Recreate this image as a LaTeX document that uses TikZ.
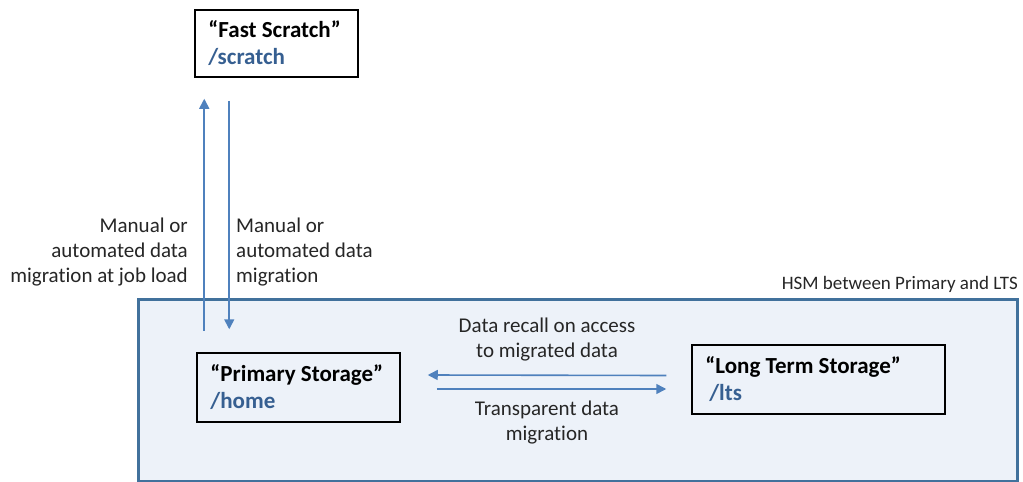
\documentclass[tikz,border=0pt]{standalone}
\usepackage{fontspec}
\setmainfont{Carlito}[Ligatures=NoCommon]
\usetikzlibrary{arrows.meta,calc}
\definecolor{arrowblue}{HTML}{4F81BD}
\definecolor{pathblue}{HTML}{365F91}
\definecolor{hsmfill}{HTML}{EDF2F9}
\definecolor{hsmline}{HTML}{41719C}
\definecolor{labelgray}{HTML}{262626}
\tikzset{
  x=1pt,y=1pt,
  box/.style={draw=black,line width=1.5pt,inner sep=0pt},
  boxtext/.style={align=left,anchor=west,inner sep=0pt,
    font=\fontsize{23}{27}\selectfont\bfseries},
  flow/.style={draw=arrowblue,line width=1.6pt,-{Triangle[width=10pt,length=10pt]}},
  lbl/.style={text=labelgray,font=\fontsize{21}{25}\selectfont,inner sep=0pt},
}
\begin{document}
\begin{tikzpicture}
\useasboundingbox (0,0) rectangle (1023,-482);
\fill[white] (0,0) rectangle (1023,-482);
% HSM region
\node[draw=hsmline,line width=3pt,fill=hsmfill,minimum width=879pt,minimum height=182pt,inner sep=0pt,anchor=north west] (hsm) at (137,-298) {};
\node[lbl,anchor=south east,font=\fontsize{19}{22}\selectfont] (hsmlabel) at (1018,-293) {HSM between Primary and LTS};
% boxes
\node[box,minimum width=163pt,minimum height=67pt] (scratch) at (276.5,-43.5) {};
\node[boxtext] (scratchtxt) at ($(scratch.west)+(14,0)$) {“Fast Scratch”\\\textcolor{pathblue}{/scratch}};
\node[box,minimum width=203pt,minimum height=69pt] (primary) at (298.5,-387.5) {};
\node[boxtext] (primarytxt) at ($(primary.west)+(14,0)$) {“Primary Storage”\\\textcolor{pathblue}{/home}};
\node[box,minimum width=253pt,minimum height=69pt] (lts) at (818.5,-379.5) {};
\node[boxtext] (ltstxt) at ($(lts.west)+(14,0)$) {“Long Term Storage”\\\textcolor{pathblue}{\,/lts}};
% vertical arrows
\coordinate (upS) at ($(scratch.south west)+(10,-253)$);
\coordinate (upE) at ($(scratch.south west)+(10,-21)$);
\coordinate (dnS) at ($(scratch.south west)+(35,-23)$);
\coordinate (dnE) at ($(primary.north west)+(33,23)$);
\draw[flow] (upS) -- (upE);
\draw[flow] (dnS) -- (dnE);
% horizontal arrows
\coordinate (lS) at ($(lts.west)+(-25,4)$);
\coordinate (lE) at ($(primary.east)+(27,12.5)$);
\coordinate (rS) at ($(primary.east)+(36,-1.5)$);
\coordinate (rE) at ($(lts.west)+(-25,-9.5)$);
\draw[flow] (lS) -- (lE);
\draw[flow] (rS) -- (rE);
% labels
\node[lbl,align=right,anchor=east] (lblup) at (188,-252) {Manual or\\automated data\\migration at job load};
\node[lbl,align=left,anchor=west] (lbldn) at (236,-252) {Manual or\\automated data\\migration};
\node[lbl,align=center] (lblrecall) at (547,-339.5) {Data recall on access\\to migrated data};
\node[lbl,align=center] (lblmig) at (547,-422.5) {Transparent data\\migration};
\end{tikzpicture}
\end{document}
